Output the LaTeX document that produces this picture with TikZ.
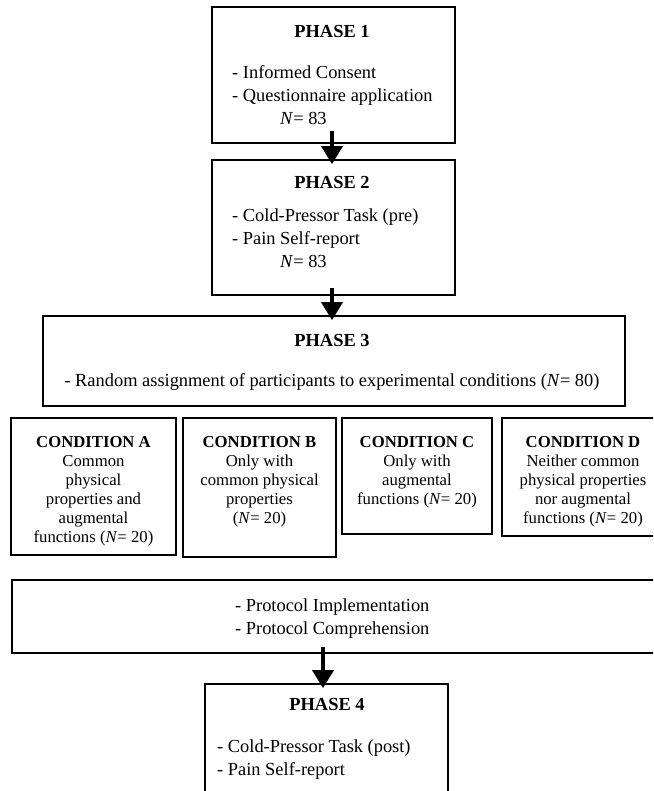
\documentclass[tikz,border=0pt]{standalone}
\usepackage{fontspec}
\setmainfont{Liberation Serif}
\usetikzlibrary{arrows.meta,calc}
\tikzset{
  box/.style={draw=black, line width=1.8pt, inner sep=0pt, fill=none},
  head/.style={inner sep=0pt, font=\fontsize{18.4}{23}\selectfont\bfseries},
  list/.style={inner sep=0pt, align=left, font=\fontsize{18.4}{23}\selectfont},
  cond/.style={inner sep=0pt, align=center, anchor=north, font=\fontsize{16.7}{19}\selectfont},
  arr/.style={line width=4pt, line cap=butt, -{Triangle[width=21pt,length=18pt]}}
}
\begin{document}
\begin{tikzpicture}[x=1pt,y=-1pt]
\clip (0,0) rectangle (653,791);
\fill[white] (0,0) rectangle (653,791);
% boxes
\node[box, minimum width=243pt, minimum height=136pt] (p1) at (333.5,75) {};
\node[box, minimum width=243pt, minimum height=135pt] (p2) at (333.5,227.5) {};
\node[box, minimum width=582pt, minimum height=90pt] (p3) at (334,361) {};
\node[box, minimum width=165pt, minimum height=137pt] (ca) at (93.5,486.5) {};
\node[box, minimum width=153pt, minimum height=139pt] (cb) at (259.5,487.5) {};
\node[box, minimum width=150pt, minimum height=116pt] (cc) at (417,476) {};
\node[box, minimum width=162pt, minimum height=118pt] (cd) at (583,477) {};
\node[box, minimum width=668pt, minimum height=73pt] (proto) at (346,616.5) {};
\node[box, minimum width=243pt, minimum height=126pt] (p4) at (326.5,747) {};
% texts
\node[head] (h1) at (332,32) {PHASE 1};
\node[list, anchor=north west] (t1) at (232,65.7) {- Informed Consent\\- Questionnaire application\\\hspace*{48pt}\textit{N}= 83};
\node[head] (h2) at (332,182) {PHASE 2};
\node[list, anchor=north west] (t2) at (232,208.5) {- Cold-Pressor Task (pre)\\- Pain Self-report\\\hspace*{48pt}\textit{N}= 83};
\node[head] (h3) at (332,340) {PHASE 3};
\node[list, anchor=base] (t3) at (332,386) {- Random assignment of participants to experimental conditions (\textit{N}= 80)};
\node[cond] (ta) at (93.5,436.5) {\textbf{CONDITION A}\\Common\\physical\\properties and\\augmental\\functions (\textit{N}= 20)};
\node[cond] (tb) at (259.5,436.5) {\textbf{CONDITION B}\\Only with\\common physical\\properties\\(\textit{N}= 20)};
\node[cond] (tc) at (417,436.5) {\textbf{CONDITION C}\\Only with\\augmental\\functions (\textit{N}= 20)};
\node[cond] (td) at (583,436.5) {\textbf{CONDITION D}\\Neither common\\physical properties\\nor augmental\\functions (\textit{N}= 20)};
\node[list, anchor=north west] (tp) at (235,598.5) {- Protocol Implementation\\- Protocol Comprehension};
\node[head] (h4) at (327,704) {PHASE 4};
\node[list, anchor=north west] (t4) at (217,739.5) {- Cold-Pressor Task (post)\\- Pain Self-report};
% arrows
\draw[arr] ($(p1.south)+(-1.5pt,13pt)$) -- ($(p2.north)+(-1.5pt,-5pt)$);
\draw[arr] ($(p2.south)+(-1.5pt,8pt)$) -- ($(p2.south |- p3.north)+(-1.5pt,-5pt)$);
\draw[arr] ($(p4.north |- proto.south)+(-3.5pt,7pt)$) -- ($(p4.north)+(-3.5pt,-5pt)$);
\end{tikzpicture}
\end{document}
